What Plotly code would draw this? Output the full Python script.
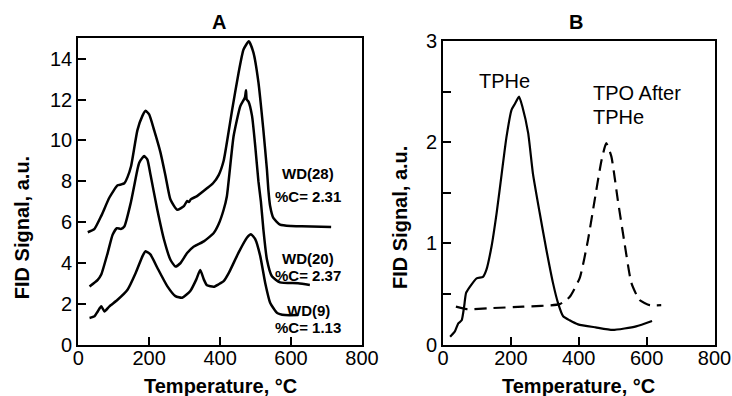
import plotly.graph_objects as go

# ---------------- data ----------------
# Panel A: TPO profiles
wd28_t = [27, 46, 65, 88, 111, 121, 130, 139, 149, 167, 181, 190, 200, 214, 232, 246, 260, 279, 298, 307, 312, 318,
          335, 363, 380, 396, 410, 422, 434, 452, 466, 481, 494, 508, 522, 532, 536, 541, 550, 569, 600, 630, 713]
wd28_s = [5.5, 5.67, 6.3, 7.2, 7.8, 7.84, 7.9, 8.2, 8.73, 10.5, 11.2, 11.45, 11.27, 10.5, 9.4, 8.27, 7.1, 6.6, 6.78, 7.03, 6.98, 7.12,
          7.27, 7.65, 7.9, 8.3, 9.0, 10.2, 11.5, 13.3, 14.45, 14.85, 14.3, 12.85, 10.5, 8.57, 7.59, 6.78, 6.2, 5.87, 5.8, 5.79, 5.76]

wd20_t = [32, 55, 65, 83, 97, 109, 120, 130, 148, 167, 172, 181, 186, 195, 204, 223, 242, 260, 274, 288, 307, 326, 354,
          382, 396, 410, 419, 438, 457, 470, 473, 475, 480, 490, 499, 508, 515, 522, 532, 546, 569, 620, 653]
wd20_s = [2.84, 3.17, 3.43, 4.48, 5.38, 5.7, 5.66, 5.78, 6.93, 8.57, 8.9, 9.15, 9.23, 9.06, 8.3, 6.6, 5.13, 4.15, 3.82, 3.98, 4.48, 4.8, 5.05,
          5.46, 5.9, 6.6, 7.25, 10.2, 11.68, 12.1, 12.45, 12.0, 11.9, 11.2, 9.73, 8.0, 7.0, 5.64, 4.16, 3.34, 3.04, 3.0, 2.92]

wd9_t = [32, 46, 55, 65, 74, 88, 111, 139, 162, 181, 190, 204, 223, 251, 274, 293, 316, 333, 344, 354, 363, 382, 396, 410,
         425, 452, 476, 487, 499, 513, 527, 541, 560, 583, 620]
wd9_s = [1.3, 1.38, 1.62, 1.87, 1.62, 1.87, 2.19, 2.68, 3.5, 4.32, 4.57, 4.4, 3.76, 2.86, 2.37, 2.29, 2.62, 3.19, 3.65, 3.19, 2.9, 2.83, 2.95, 3.1,
         3.52, 4.5, 5.24, 5.4, 5.16, 4.34, 3.03, 2.05, 1.56, 1.44, 1.44]

labels_a = ["WD(28)", "%C= 2.31", "WD(20)", "%C= 2.37", "WD(9)", "%C= 1.13"]
labels_a_y = [8.37, 7.27, 4.23, 3.39, 1.69, 0.83]
labels_a_x = 648

# Panel B
tphe_t = [21, 35, 45, 55, 62, 68, 79, 99, 118, 128, 143, 158, 173, 187, 202, 212, 224, 234, 251, 265, 285, 305, 324, 339,
          354, 373, 398, 450, 500, 569, 616]
tphe_s = [0.078, 0.13, 0.21, 0.24, 0.37, 0.51, 0.57, 0.655, 0.67, 0.74, 0.97, 1.30, 1.69, 2.05, 2.32, 2.38, 2.45, 2.35, 2.09, 1.69, 1.30, 0.93, 0.61, 0.41,
          0.28, 0.24, 0.2, 0.17, 0.145, 0.18, 0.233]

tpo_t = [38, 70, 138, 236, 344, 373, 403, 427, 447, 467, 481, 496, 515, 535, 555, 579, 609, 643]
tpo_s = [0.375, 0.35, 0.36, 0.375, 0.40, 0.47, 0.66, 1.03, 1.43, 1.82, 1.99, 1.86, 1.43, 1.0, 0.61, 0.44, 0.39, 0.39]

ticks_a_x = [0, 200, 400, 600, 800]
ticks_a_y = [0, 2, 4, 6, 8, 10, 12, 14]
ticks_b_y = [0, 0.5, 1, 1.5, 2, 2.5, 3]
ticks_b_ytext = ["0", "", "1", "", "2", "", "3"]

# ---------------- figure ----------------
W, H = 732, 396
FONT = "Arial, Liberation Sans, sans-serif"


def px(x):
    return x / W


def py(y):
    return 1 - y / H


line = dict(color="black", width=2.5)
fig = go.Figure()
fig.add_trace(go.Scatter(x=wd28_t, y=wd28_s, mode="lines", line=line, xaxis="x", yaxis="y", line_shape="spline",
                         line_smoothing=0.5))
fig.add_trace(go.Scatter(x=wd20_t, y=wd20_s, mode="lines", line=line, xaxis="x", yaxis="y", line_shape="spline",
                         line_smoothing=0.5))
fig.add_trace(go.Scatter(x=wd9_t, y=wd9_s, mode="lines", line=line, xaxis="x", yaxis="y", line_shape="spline",
                         line_smoothing=0.5))
fig.add_trace(go.Scatter(x=tphe_t, y=tphe_s, mode="lines", line=dict(color="black", width=2.2), xaxis="x2", yaxis="y2",
                         line_shape="spline", line_smoothing=0.5))
fig.add_trace(go.Scatter(x=tpo_t, y=tpo_s, mode="lines", line=dict(color="black", width=2.2, dash="12px,7px"),
                         xaxis="x2", yaxis="y2", line_shape="spline", line_smoothing=0.5))

axis_common = dict(showline=True, linecolor="black", linewidth=2, mirror=True, ticks="inside", ticklen=8,
                   tickwidth=2, tickcolor="black", showgrid=False, zeroline=False, automargin=False,
                   tickfont=dict(family=FONT, size=20, color="black"))

fig.update_layout(
    width=W, height=H, template="none", showlegend=False,
    margin=dict(l=0, r=0, t=0, b=0),
    paper_bgcolor="white", plot_bgcolor="white",
    xaxis=dict(domain=[px(78.2), px(362)], range=[0, 800], tickvals=ticks_a_x, anchor="y",
               ticklabelstandoff=-6, **axis_common),
    yaxis=dict(domain=[py(344.5), py(38.3)], range=[0, 15], tickvals=ticks_a_y, anchor="x", **axis_common),
    xaxis2=dict(domain=[px(443), px(714.5)], range=[0, 800], tickvals=ticks_a_x, anchor="y2",
                ticklabelstandoff=-6, **axis_common),
    yaxis2=dict(domain=[py(344.6), py(41)], range=[0, 3], tickvals=ticks_b_y, ticktext=ticks_b_ytext, anchor="x2",
                **axis_common),
)

ann = []
for txt, yy in zip(labels_a, labels_a_y):
    ann.append(dict(x=labels_a_x, y=yy, xref="x", yref="y", text="<b>" + txt + "</b>", showarrow=False,
                    font=dict(family=FONT, size=15, color="black"), xanchor="center", yanchor="middle"))

ann.append(dict(x=182, y=2.6, xref="x2", yref="y2", text="TPHe", showarrow=False,
                font=dict(family=FONT, size=20, color="black"), xanchor="center", yanchor="middle"))
ann.append(dict(x=437, y=2.49, xref="x2", yref="y2", text="TPO After", showarrow=False,
                font=dict(family=FONT, size=20, color="black"), xanchor="left", yanchor="middle"))
ann.append(dict(x=437, y=2.25, xref="x2", yref="y2", text="TPHe", showarrow=False,
                font=dict(family=FONT, size=20, color="black"), xanchor="left", yanchor="middle"))

# panel titles and axis titles
for txt, x, y, ang in [("A", 219, 21.7, 0), ("B", 576, 21.7, 0),
                       ("Temperature, °C", 220, 386, 0), ("Temperature, °C", 578.5, 386, 0),
                       ("FID Signal, a.u.", 21.7, 227.5, -90), ("FID Signal, a.u.", 400, 218, -90)]:
    ann.append(dict(x=px(x), y=py(y), xref="paper", yref="paper", text="<b>" + txt + "</b>", showarrow=False,
                    textangle=ang, font=dict(family=FONT, size=20, color="black"),
                    xanchor="center", yanchor="middle"))

fig.update_layout(annotations=ann)
fig.write_html("out.html")
